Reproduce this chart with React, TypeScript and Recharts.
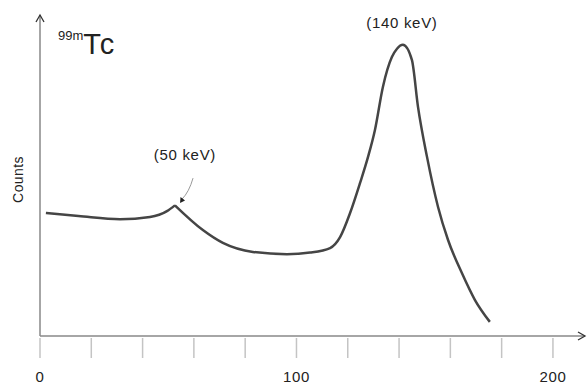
import React from "react";
import { LineChart, Line, XAxis, YAxis, ReferenceDot } from "recharts";

// Energy (keV) and counts (relative units)
const energyLow = [2.3, 15, 31.2, 42.9, 49.5, 52.6];
const countsLow = [38.3, 37.4, 36.4, 37.1, 38.9, 40.7];
const energyHigh = [52.6, 63.5, 71.3, 83, 96.3, 105.3, 113.1, 117, 120.9, 124.8, 127.9, 130.6, 133.7, 137.2, 139.2, 141.5, 145, 147.4, 150.9, 155.2, 159.1, 164.5, 169.6, 175.4];
const countsHigh = [40.7, 33.0, 29.0, 26.2, 25.5, 26.0, 27.4, 30.8, 38.3, 47.7, 55.8, 64.2, 77.6, 86.9, 89.5, 90.7, 86.0, 71.3, 55.8, 40.2, 29.9, 19.6, 11.2, 4.4];

const xTicks = [0, 20, 40, 60, 80, 100, 120, 140, 160, 180, 200];
const xLabels = ["0", "100", "200"];
const xMax = 212.5;
const yMax = 100;

const lowData = energyLow.map((e, i) => ({ e, c: countsLow[i] }));
const highData = energyHigh.map((e, i) => ({ e, c: countsHigh[i] }));

const FONT = "'Liberation Sans', Arial, Helvetica, sans-serif";
const INK = "#222";

const XTick = (props: any) => {
  const { x, y, payload } = props;
  const label = String(payload.value);
  return (
    <g>
      <line x1={x} x2={x} y1={y + 2} y2={y + 22} stroke="#c4c4c4" strokeWidth={1.5} />
      {xLabels.includes(label) && (
        <text x={x} y={y + 46} textAnchor="middle" fontFamily={FONT} fontSize={15} letterSpacing={0.6} fill={INK}>
          {label}
        </text>
      )}
    </g>
  );
};

export default function App() {
  return (
    <div style={{ position: "absolute", left: 0, top: 0, background: "#fff" }}>
      <LineChart width={587} height={389} margin={{ top: 15, right: 2, bottom: 0, left: 0 }}>
        <XAxis
          type="number"
          dataKey="e"
          domain={[0, xMax]}
          ticks={xTicks}
          interval={0}
          allowDataOverflow
          tickLine={false}
          tickSize={0}
          tickMargin={0}
          height={53}
          axisLine={{ stroke: "#888", strokeWidth: 1.5 }}
          tick={<XTick />}
        />
        <YAxis
          type="number"
          dataKey="c"
          domain={[0, yMax]}
          width={40}
          tick={false}
          tickLine={false}
          axisLine={{ stroke: "#888", strokeWidth: 1.5 }}
          label={(p: any) => {
            const vb = p.viewBox || {};
            const cx = (vb.x ?? 0) + 18;
            const cy = (vb.y ?? 0) + (vb.height ?? 0) / 2 + 4;
            return (
              <text
                x={cx}
                y={cy}
                transform={`rotate(-90 ${cx} ${cy})`}
                textAnchor="middle"
                dominantBaseline="central"
                fontFamily={FONT}
                fontSize={14}
                letterSpacing={0.4}
                fill={INK}
              >
                Counts
              </text>
            );
          }}
        />
        <Line
          data={lowData}
          dataKey="c"
          type="monotone"
          stroke="#454545"
          strokeWidth={2.5}
          dot={false}
          isAnimationActive={false}
        />
        <Line
          data={highData}
          dataKey="c"
          type="monotone"
          stroke="#454545"
          strokeWidth={2.5}
          dot={false}
          isAnimationActive={false}
        />
        {/* axis arrowheads */}
        <ReferenceDot
          x={xMax}
          y={0}
          ifOverflow="visible"
          shape={(p: any) => (
            <path d={`M${p.cx - 7},${p.cy - 4} L${p.cx},${p.cy} L${p.cx - 7},${p.cy + 4}`} fill="none" stroke="#333" strokeWidth={1.3} />
          )}
        />
        <ReferenceDot
          x={0}
          y={yMax}
          ifOverflow="visible"
          shape={(p: any) => (
            <path d={`M${p.cx - 4},${p.cy + 7} L${p.cx},${p.cy} L${p.cx + 4},${p.cy + 7}`} fill="none" stroke="#333" strokeWidth={1.3} />
          )}
        />
        {/* 99mTc title */}
        <ReferenceDot
          x={7}
          y={88}
          ifOverflow="visible"
          shape={(p: any) => (
            <text x={p.cx} y={p.cy} fontFamily={FONT} fill={INK}>
              <tspan fontSize={13} dy={-14}>99m</tspan>
              <tspan fontSize={29} dy={14} letterSpacing={2}>Tc</tspan>
            </text>
          )}
        />
        {/* 50 keV annotation */}
        <ReferenceDot
          x={56.5}
          y={54.8}
          ifOverflow="visible"
          shape={(p: any) => (
            <text x={p.cx} y={p.cy} textAnchor="middle" fontFamily={FONT} fontSize={15} letterSpacing={0.7} fill={INK}>
              (50 keV)
            </text>
          )}
        />
        <ReferenceDot
          x={54.6}
          y={41.4}
          ifOverflow="visible"
          shape={(p: any) => (
            <g>
              <path d={`M${p.cx + 13},${p.cy - 25} Q${p.cx + 9},${p.cy - 11} ${p.cx + 2},${p.cy - 4}`} fill="none" stroke="#999" strokeWidth={1} />
              <path d={`M${p.cx},${p.cy} L${p.cx + 0.5},${p.cy - 6} L${p.cx + 5},${p.cy - 2.5} Z`} fill="#222" />
            </g>
          )}
        />
        {/* 140 keV annotation */}
        <ReferenceDot
          x={141.1}
          y={95.9}
          ifOverflow="visible"
          shape={(p: any) => (
            <text x={p.cx} y={p.cy} textAnchor="middle" fontFamily={FONT} fontSize={15} letterSpacing={0.7} fill={INK}>
              (140 keV)
            </text>
          )}
        />
      </LineChart>
    </div>
  );
}
